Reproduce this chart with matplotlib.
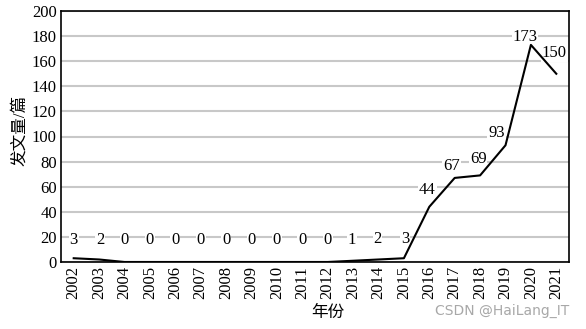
import matplotlib.pyplot as plt

plt.rcParams['font.family'] = ['Liberation Serif', 'Noto Sans CJK SC', 'DejaVu Sans']

# publications per year
years = [str(y) for y in range(2002, 2022)]
counts = [3, 2, 0, 0, 0, 0, 0, 0, 0, 0, 0, 1, 2, 3, 44, 67, 69, 93, 173, 150]

# label offsets in pixels (dx, dy) - hand placed like the original
offs = [(0, 18), (1, 19)] + [(0, 22)] * 9 + [(-1, 21), (-1, 20), (1, 19),
        (-2, 17), (-3, 12), (-2, 16), (-9, 12), (-6, 8), (-2, 21)]

fig = plt.figure(figsize=(5.86, 3.29), dpi=100)
ax = fig.add_axes([61 / 586, 1 - 262 / 329, 508 / 586, 251 / 329])

x = list(range(len(years)))
ax.plot(x, counts, color='black', linewidth=1.5, zorder=5)

for i, v in enumerate(counts):
    ax.annotate(str(v), (i, v), xytext=offs[i], textcoords='offset pixels',
                ha='center', va='center', fontsize=12, zorder=4,
                bbox=dict(boxstyle='square,pad=0.05', fc='white', ec='none'))

ax.set_xlim(-0.5, len(years) - 0.5)
ax.set_ylim(0, 200)
ax.set_yticks(range(0, 201, 20))
ax.set_xticks(x)
ax.set_xticklabels(years, rotation=90)
ax.tick_params(axis='both', length=0, labelsize=12, pad=3)
ax.grid(axis='y', color='#c8c8c8', linewidth=1.5, zorder=0)
for s in ax.spines.values():
    s.set_linewidth(1.2)

ax.set_ylabel('发文量/篇', fontsize=12, va='center')
ax.yaxis.set_label_coords(-0.09 + 0.01, 0.526)
ax.set_xlabel('年份', fontsize=12, va='center')
ax.xaxis.set_label_coords(0.526, -0.203)

fig.text(569 / 586, 1 - 311 / 329, 'CSDN @HaiLang_IT', color='#a8a8a8',
         ha='right', va='center', fontsize=10, family='DejaVu Sans')

fig.savefig('out.png', dpi=100)
